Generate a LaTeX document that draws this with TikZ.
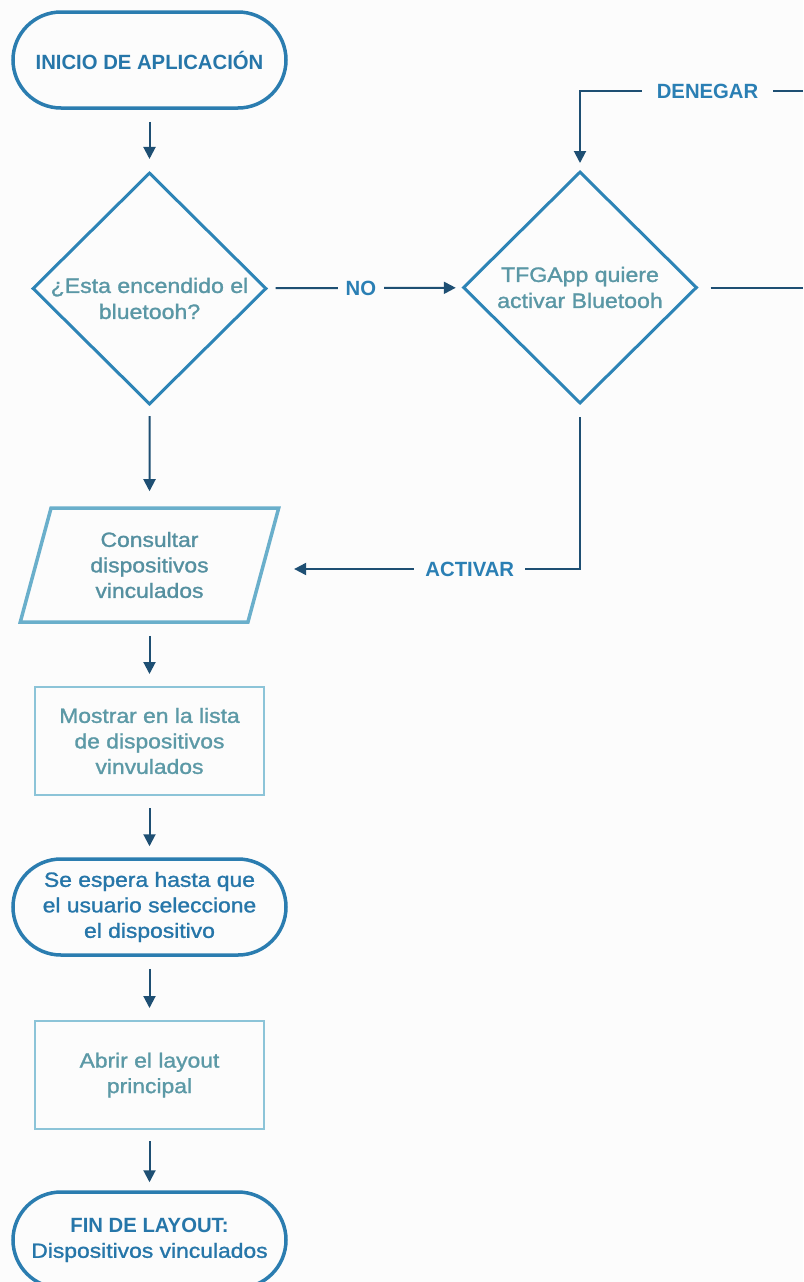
\documentclass[tikz,border=0pt]{standalone}
\usepackage{fontspec}
\setmainfont{Liberation Sans}
% caps lines in the heavy cut, lower-case lines emboldened and a little wider
\newfontfamily\capfont[FakeStretch=0.985]{Liberation Sans Bold}
\newfontfamily\lowfont[FakeBold=1.3, FakeStretch=1.11]{Liberation Sans}
\usetikzlibrary{shapes.geometric,arrows.meta}

\definecolor{bg}{HTML}{FCFCFC}
\definecolor{termc}{HTML}{2B7DB0}
\definecolor{termtxt}{HTML}{2676A9}
\definecolor{decc}{HTML}{2D84B6}
\definecolor{dectxt}{HTML}{5A97A5}
\definecolor{ioc}{HTML}{6AAFCB}
\definecolor{iotxt}{HTML}{5590A0}
\definecolor{procc}{HTML}{8CC4D8}
\definecolor{proctxt}{HTML}{5C99A6}
\definecolor{arrowc}{HTML}{1E4F73}
\definecolor{lblc}{HTML}{2A7FB4}

\begin{document}
\begin{tikzpicture}[x=1pt,y=-1pt,
  txt/.style={font=\lowfont\fontsize{20.6}{25.5}\selectfont, align=center},
  terminal/.style={txt, draw=termc, line width=3.5pt, rounded corners=48pt,
    minimum width=273pt, minimum height=96pt, text=termtxt},
  decision/.style={diamond, draw=decc, line width=3pt,
    minimum width=234pt, minimum height=232pt, inner sep=0pt},
  dtext/.style={txt, text=dectxt, font=\lowfont\fontsize{20.8}{26}\selectfont},
  io/.style={txt, trapezium, trapezium left angle=75, trapezium right angle=105,
    trapezium stretches=true, draw=ioc, line width=3.5pt,
    minimum width=259pt, minimum height=114pt, text=iotxt},
  process/.style={txt, draw=procc, line width=2pt,
    minimum width=229pt, minimum height=108pt, text=proctxt},
  flow/.style={draw=arrowc, line width=2pt,
    -{Triangle[width=12pt,length=12pt]}, shorten <=12pt, shorten >=12pt},
  wire/.style={draw=arrowc, line width=2pt},
  lbl/.style={fill=bg, text=lblc, inner ysep=2pt,
    font=\capfont\fontsize{20.6}{25}\selectfont}
]
\useasboundingbox (0,0) rectangle (803,1282);
\fill[bg] (0,0) rectangle (803,1282);
\clip (0,0) rectangle (803,1282);

% main column
\node[terminal, font=\capfont\fontsize{20.6}{25}\selectfont] (start) at (149.5,60)
  {INICIO DE APLICACIÓN};
\node[decision, label={[dtext, yshift=-10pt]center:{¿Esta encendido el\\bluetooh?}}]
  (bt) at (149.5,288.5) {};
\node[io] (query) at (149.5,565) {Consultar\\dispositivos\\vinculados};
\node[process] (list) at (149.5,741) {Mostrar en la lista\\de dispositivos\\vinvulados};
\node[terminal] (wait) at (149.5,907) {Se espera hasta que\\el usuario seleccione\\el dispositivo};
\node[process] (open) at (149.5,1075) {Abrir el layout\\principal};
\node[terminal] (finish) at (149.5,1240)
  {{\capfont FIN DE LAYOUT:}\\Dispositivos vinculados};

% permission request
\node[decision, label={[dtext]center:{TFGApp quiere\\activar Bluetooh}}]
  (ask) at (580,287.5) {};

\coordinate (denyIn) at (803,91);
\coordinate (askOut) at (803,287.5);

% connectors
\draw[flow] (start) -- (bt);
\draw[flow, shorten <=10pt, shorten >=15pt] (bt) -- (query);
\draw[flow] (query) -- (list);
\draw[flow, shorten >=11pt] (list) -- (wait);
\draw[flow] (wait) -- (open);
\draw[flow, shorten <=11pt, shorten >=8pt] (open) -- (finish);

\draw[flow, shorten <=8pt, shorten >=6pt] (bt) --
  node[lbl, pos=0.48, inner xsep=8pt] {NO} (ask);
\draw[flow, shorten <=0pt, shorten >=7pt] (denyIn) --
  node[lbl, pos=0.428, inner xsep=15pt] {DENEGAR} (ask.north |- denyIn) -- (ask.north);
\draw[wire, shorten <=12pt] (ask) -- (askOut);
\draw[flow, shorten >=29pt] (ask) |-
  node[lbl, pos=0.675, inner xsep=11pt] {ACTIVAR} ([yshift=-4pt]query.east);
\end{tikzpicture}
\end{document}
